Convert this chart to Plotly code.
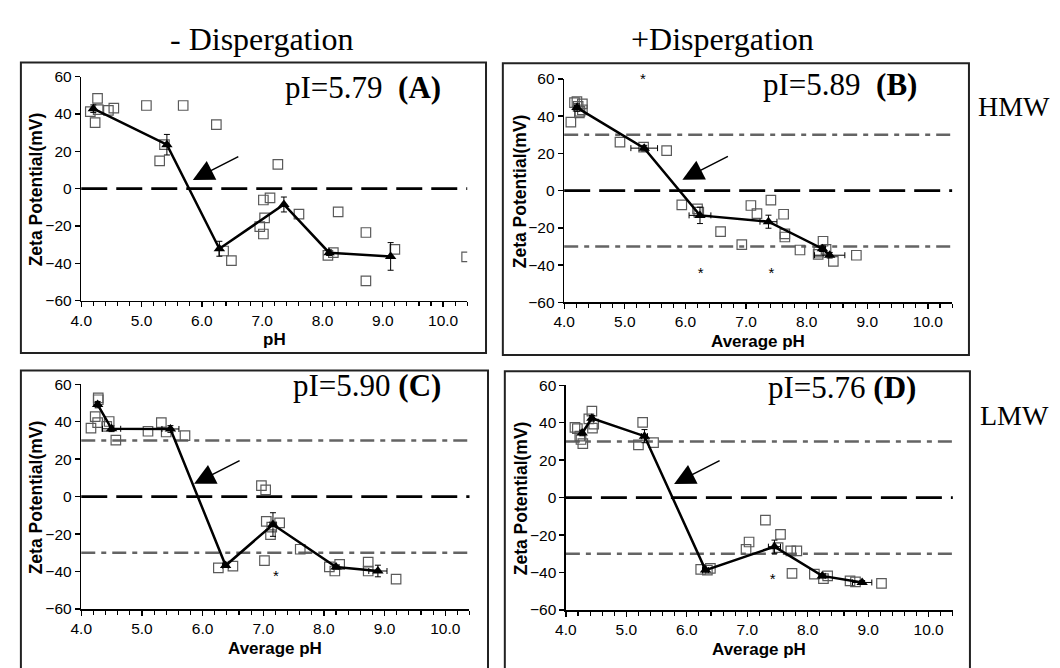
import plotly.graph_objects as go

W, H = 1060, 668

# ---------------- data ----------------
panel_keys = ["A", "B", "C", "D"]
pI_values = ["5.79", "5.89", "5.90", "5.76"]
x_titles = ["pH", "Average pH", "Average pH", "Average pH"]
y_title = "Zeta Potential(mV)"
col_titles = ["- Dispergation", "+Dispergation"]
row_titles = ["HMW", "LMW"]

# (A) HMW, no dispergation
A_sample_ph = [4.15, 4.23, 4.27, 4.28, 4.45, 4.54, 5.08, 5.30, 5.38, 5.69, 6.24, 6.36, 6.49,
               6.96, 7.02, 7.02, 7.04, 7.13, 7.26, 7.61, 8.09, 8.18, 8.26, 8.72, 8.72, 9.20, 10.39]
A_sample_zeta = [41.2, 35.3, 48.3, 42.3, 41.9, 43.1, 44.5, 14.8, 23.5, 44.5, 34.3, -33.4, -38.6,
                 -20.3, -24.3, -6.1, -15.7, -5.0, 13.0, -13.7, -35.7, -34.3, -12.5, -23.5, -49.4, -32.5, -36.5]
A_mean_ph = [4.20, 5.42, 6.29, 7.36, 8.11, 9.13]
A_mean_zeta = [42.8, 23.5, -32.2, -8.5, -34.3, -36.3]
A_err_zeta = [2.0, 5.5, 4.0, 4.0, 1.5, 7.4]
A_err_ph = None
A_star_ph = []
A_star_zeta = []

# (B) HMW, dispergation
B_sample_ph = [4.11, 4.17, 4.21, 4.23, 4.25, 4.30, 4.30, 4.26, 4.92, 5.31, 5.69, 5.94, 6.20, 6.22,
               6.58, 6.93, 7.08, 7.18, 7.41, 7.62, 7.64, 7.64, 7.89, 8.19, 8.20, 8.27, 8.32, 8.44, 8.82]
B_sample_zeta = [36.8, 47.3, 47.8, 45.2, 41.7, 46.6, 43.4, 42.6, 26.0, 23.4, 21.5, -7.7, -9.8, -11.5,
                 -22.0, -29.0, -8.0, -12.4, -5.1, -12.7, -23.2, -24.9, -31.9, -34.2, -33.0, -27.2, -31.6, -38.0, -34.7]
B_mean_ph = [4.21, 5.32, 6.24, 7.37, 8.26, 8.38]
B_mean_zeta = [44.6, 22.8, -13.3, -16.7, -31.2, -34.7]
B_err_zeta = [2.0, 1.5, 4.4, 3.5, 1.5, 1.5]
B_err_ph = [0.04, 0.22, 0.18, 0.14, 0.05, 0.25]
B_star_ph = [5.30, 6.25, 7.42]
B_star_zeta = [59.1, -45.0, -45.0]

# (C) LMW, no dispergation
C_sample_ph = [4.16, 4.23, 4.27, 4.28, 4.28, 4.46, 4.42, 4.57, 5.10, 5.32, 5.40, 5.71, 6.26, 6.50,
               6.97, 7.04, 7.02, 7.05, 7.12, 7.14, 7.27, 7.61, 8.09, 8.18, 8.26, 8.73, 8.73, 9.19]
C_sample_zeta = [36.6, 42.7, 39.5, 52.7, 51.7, 40.1, 37.5, 30.2, 34.9, 39.5, 34.5, 32.6, -38.0, -37.1,
                 5.9, 3.6, -34.2, -13.2, -20.3, -16.3, -14.0, -28.1, -37.5, -39.7, -36.2, -35.0, -39.7, -44.0]
C_mean_ph = [4.27, 4.50, 5.47, 6.38, 7.16, 8.20, 8.89]
C_mean_zeta = [49.1, 36.2, 36.1, -36.8, -14.9, -37.6, -39.7]
C_err_zeta = [1.7, 1.5, 1.8, 1.0, 6.3, 1.0, 3.1]
C_err_ph = [0.03, 0.15, 0.14, 0.05, 0.05, 0.05, 0.15]
C_star_ph = [7.21]
C_star_zeta = [-43.2]

# (D) LMW, dispergation
D_sample_ph = [4.15, 4.19, 4.23, 4.25, 4.28, 4.38, 4.43, 4.44, 4.46, 5.20, 5.27, 5.45, 6.23, 6.34, 6.39,
               6.98, 7.03, 7.30, 7.55, 7.51, 7.72, 7.74, 7.82, 8.11, 8.26, 8.33, 8.70, 8.79, 9.22]
D_sample_zeta = [37.5, 36.8, 32.8, 31.0, 28.8, 42.0, 46.1, 37.1, 39.2, 28.1, 40.1, 29.3, -38.3, -38.7, -37.8,
                 -27.6, -23.7, -12.0, -19.6, -26.7, -28.4, -40.4, -28.4, -40.9, -43.2, -41.8, -44.4, -45.0, -45.8]
D_mean_ph = [4.27, 4.43, 5.30, 6.31, 7.45, 8.24, 8.90]
D_mean_zeta = [34.5, 42.3, 32.8, -38.7, -26.2, -41.8, -45.3]
D_err_zeta = [1.5, 1.5, 3.5, 1.0, 3.5, 1.0, 1.0]
D_err_ph = [0.03, 0.03, 0.05, 0.05, 0.10, 0.05, 0.16]
D_star_ph = [7.42]
D_star_zeta = [-43.9]

# arrow tips pointing at the isoelectric point (data coords)
arrow_tip_ph = [5.85, 5.95, 5.86, 5.79]
arrow_tip_zeta = [4.65, 5.9, 6.8, 7.3]

zero_level = 0
stability_levels = [30, -30]
panels_with_stability = ["B", "C", "D"]

x_range = [4.0, 10.4]
y_range = [-60, 60]

# ---------------- layout geometry (pixels) ----------------
plot_px = {  # x0, x1, y_top, y_bottom
    "A": (71, 461, 69.3, 299.3),
    "B": (559, 951, 71.7, 301.0),
    "C": (71, 463.3, 385.0, 615.7),
    "D": (560.7, 951.7, 386.0, 616.7),
}
box_px = {
    "A": (10, 480, 55, 353),
    "B": (497, 968, 55.7, 355),
    "C": (10, 482, 371, 680),
    "D": (499, 969, 371.7, 680),
}

def px(x):
    return x / W

def py(y):
    return 1 - y / H

data = {
    "A": (A_sample_ph, A_sample_zeta, A_mean_ph, A_mean_zeta, A_err_zeta, A_err_ph, A_star_ph, A_star_zeta),
    "B": (B_sample_ph, B_sample_zeta, B_mean_ph, B_mean_zeta, B_err_zeta, B_err_ph, B_star_ph, B_star_zeta),
    "C": (C_sample_ph, C_sample_zeta, C_mean_ph, C_mean_zeta, C_err_zeta, C_err_ph, C_star_ph, C_star_zeta),
    "D": (D_sample_ph, D_sample_zeta, D_mean_ph, D_mean_zeta, D_err_zeta, D_err_ph, D_star_ph, D_star_zeta),
}

SANS = "Liberation Sans, Arial, sans-serif"
SERIF = "Liberation Serif, Times New Roman, serif"

fig = go.Figure()
layout = dict(
    width=W, height=H, margin=dict(l=0, r=0, t=0, b=0),
    paper_bgcolor="white", plot_bgcolor="white", showlegend=False,
)
shapes = []
annotations = []

for i, key in enumerate(panel_keys):
    n = "" if i == 0 else str(i + 1)
    xa, ya = "x" + n, "y" + n
    sx, sy, mx, my, ey, ex, stx, sty = data[key]
    x0, x1, yt, yb = plot_px[key]

    layout["xaxis" + n] = dict(
        domain=[px(x0), px(x1)], range=x_range, anchor=ya,
        dtick=1, tick0=4, tickformat=".1f",
        showline=True, linecolor="black", linewidth=1.5,
        ticks="outside", ticklen=5, tickwidth=1.3, tickcolor="black",
        minor=dict(dtick=0.2, ticks="outside", ticklen=4, tickwidth=1.1, tickcolor="black"),
        showgrid=False, zeroline=False, fixedrange=True,
        tickfont=dict(family=SANS, size=15.5, color="black"),
    )
    layout["yaxis" + n] = dict(
        domain=[py(yb), py(yt)], range=y_range, anchor=xa,
        dtick=20, tick0=-60,
        showline=True, linecolor="black", linewidth=1.5,
        ticks="outside", ticklen=5, tickwidth=1.3, tickcolor="black",
        showgrid=False, zeroline=False, fixedrange=True,
        tickfont=dict(family=SANS, size=15.5, color="black"),
    )

    # reference lines
    shapes.append(dict(type="line", xref=xa + " domain", yref=ya, x0=0, x1=1,
                       y0=zero_level, y1=zero_level, layer="below",
                       line=dict(color="black", width=2.6, dash="26px,9px")))
    if key in panels_with_stability:
        for lev in stability_levels:
            shapes.append(dict(type="line", xref=xa + " domain", yref=ya, x0=0, x1=1,
                               y0=lev, y1=lev, layer="below",
                               line=dict(color="#646464", width=2.5, dash="14px,6px,5px,6px")))

    # individual measurements
    fig.add_trace(go.Scatter(
        x=sx, y=sy, mode="markers", xaxis=xa, yaxis=ya,
        marker=dict(symbol="square-open", size=9.5, color="#5a5a5a", line=dict(width=1.2, color="#5a5a5a")),
    ))
    # averages with error bars
    err_x = dict(type="data", array=ex, visible=True, color="black", thickness=1, width=3) if ex else None
    fig.add_trace(go.Scatter(
        x=mx, y=my, mode="lines+markers", xaxis=xa, yaxis=ya,
        line=dict(color="black", width=2.5),
        marker=dict(symbol="triangle-up", size=10, color="black"),
        error_y=dict(type="data", array=ey, visible=True, color="black", thickness=1, width=3),
        error_x=err_x,
    ))
    # significance asterisks
    if stx:
        fig.add_trace(go.Scatter(
            x=stx, y=sty, mode="text", text=["*"] * len(stx), xaxis=xa, yaxis=ya,
            textposition="middle center", cliponaxis=False,
            textfont=dict(family=SANS, size=15, color="black"),
        ))

    # pI arrow
    annotations.append(dict(
        xref=xa, yref=ya, x=arrow_tip_ph[i], y=arrow_tip_zeta[i], text="",
        showarrow=True, arrowhead=2, arrowsize=2.8, arrowwidth=1.5, arrowcolor="black",
        ax=47, ay=-24, standoff=0,
    ))

    # panel box
    bx0, bx1, by0, by1 = box_px[key]
    shapes.append(dict(type="rect", xref="paper", yref="paper",
                       x0=px(bx0), x1=px(bx1), y0=py(by1), y1=py(by0),
                       line=dict(color="#222222", width=2), layer="above"))

    # axis titles
    cx = (x0 + x1) / 2
    xt_y = {"A": 339, "B": 341, "C": 656, "D": 657}[key]
    annotations.append(dict(xref="paper", yref="paper", x=px(cx), y=py(xt_y),
                            text="<b>%s</b>" % x_titles[i], showarrow=False,
                            xanchor="center", yanchor="middle",
                            font=dict(family=SANS, size=17, color="black")))
    yt_x = {"A": 25, "B": 514, "C": 25, "D": 515}[key]
    annotations.append(dict(xref="paper", yref="paper", x=px(yt_x), y=py((yt + yb) / 2 + 1),
                            text="<b>%s</b>" % y_title, showarrow=False, textangle=-90,
                            xanchor="center", yanchor="middle",
                            font=dict(family=SANS, size=17.5, color="black")))

    # pI label
    gap = "&nbsp;&nbsp;" if key in ("A", "B") else "&nbsp;"
    lab_pos = {"A": (437, 80.5), "B": (918, 77), "C": (437, 386), "D": (917, 388)}[key]
    annotations.append(dict(xref="paper", yref="paper", x=px(lab_pos[0]), y=py(lab_pos[1]),
                            text="pI=%s%s<b>(%s)</b>" % (pI_values[i], gap, key), showarrow=False,
                            xanchor="right", yanchor="middle",
                            font=dict(family=SERIF, size=31, color="black")))

# column and row titles
for t, (cx, cy) in zip(col_titles, [(253, 31), (719, 31)]):
    annotations.append(dict(xref="paper", yref="paper", x=px(cx), y=py(cy), text=t,
                            showarrow=False, xanchor="center", yanchor="middle",
                            font=dict(family=SERIF, size=32, color="black")))
for t, (cx, cy) in zip(row_titles, [(1014, 100), (1014, 417)]):
    annotations.append(dict(xref="paper", yref="paper", x=px(cx), y=py(cy), text=t,
                            showarrow=False, xanchor="center", yanchor="middle",
                            font=dict(family=SERIF, size=28, color="black")))

layout["shapes"] = shapes
layout["annotations"] = annotations
fig.update_layout(**layout)
fig.write_html("out.html", config={"displayModeBar": False, "staticPlot": True},
               post_script="document.body.style.margin='0';document.body.style.overflow='hidden';")
